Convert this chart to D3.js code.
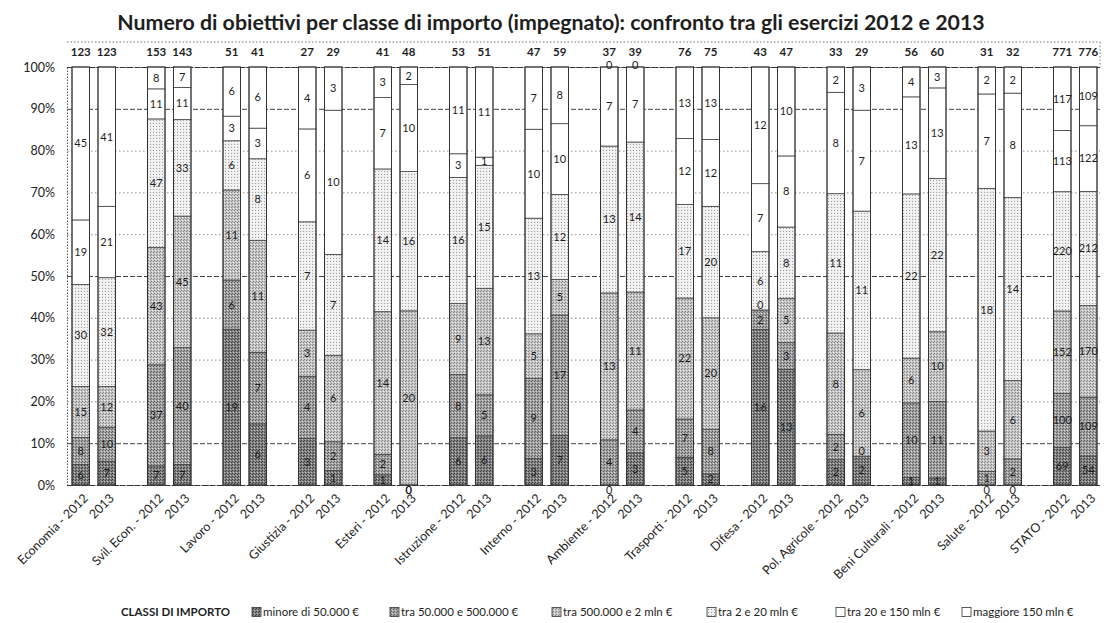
<!DOCTYPE html>
<html><head><meta charset="utf-8">
<script src="https://cdn.jsdelivr.net/npm/d3@7"></script>
<style>
body{margin:0;background:#fff}
svg{display:block}
text{font-family:Lato,"Liberation Sans",sans-serif;fill:#1e1e1e}
</style>
</head><body>
<svg id="chart" width="1113" height="623"></svg>
<script>
// ---- DATA ----
const titleText = "Numero di obiettivi per classe di importo (impegnato): confronto tra gli esercizi 2012 e 2013";
const ministries = ["Economia","Svil. Econ.","Lavoro","Giustizia","Esteri","Istruzione","Interno","Ambiente","Trasporti","Difesa","Pol. Agricole","Beni Culturali","Salute","STATO"];
const years = ["2012","2013"];
const classNames = ["minore di 50.000 €","tra 50.000 e 500.000 €","tra 500.000 e 2 mln €","tra 2 e 20 mln €","tra 20 e 150 mln €","maggiore 150 mln €"];
const legendTitle = "CLASSI DI IMPORTO";
// values per class; order: ministry 2012, ministry 2013, ...
const cls1 = [6,7, 7,7, 19,6, 3,1, 1,0, 6,6, 3,7, 0,3, 5,2, 16,13, 2,2, 1,1, 0,0, 69,54];
const cls2 = [8,10, 37,40, 6,7, 4,2, 2,0, 8,5, 9,17, 4,4, 7,8, 2,3, 2,0, 10,11, 1,2, 100,109];
const cls3 = [15,12, 43,45, 11,11, 3,6, 14,20, 9,13, 5,5, 13,11, 22,20, 0,5, 8,6, 6,10, 3,6, 152,170];
const cls4 = [30,32, 47,33, 6,8, 7,7, 14,16, 16,15, 13,12, 13,14, 17,20, 6,8, 11,11, 22,22, 18,14, 220,212];
const cls5 = [19,21, 11,11, 3,3, 6,10, 7,10, 3,1, 10,10, 7,7, 12,12, 7,8, 8,7, 13,13, 7,8, 113,122];
const cls6 = [45,41, 8,7, 6,6, 4,3, 3,2, 11,11, 7,8, 0,0, 13,13, 12,10, 2,3, 4,3, 2,2, 117,109];
const yTickLabels = ["0%","10%","20%","30%","40%","50%","60%","70%","80%","90%","100%"];

// ---- BUILD ----
const series = [cls1,cls2,cls3,cls4,cls5,cls6];
const keys = ["c1","c2","c3","c4","c5","c6"];
const rows = [];
ministries.forEach((m,gi)=>years.forEach((yr,yi)=>{
  const i = gi*2+yi;
  const r = {ministry:m, year:yr};
  keys.forEach((k,ki)=>r[k]=series[ki][i]);
  r.total = d3.sum(keys,k=>r[k]);
  rows.push(r);
}));

const svg = d3.select("#chart");
const defs = svg.append("defs");
const pats = [
  {bg:"#828282", dot:"#3e3e3e", light:"#bdbdbd"},
  {bg:"#a2a2a2", dot:"#5e5e5e", light:"#d6d6d6"},
  {bg:"#c6c6c6", dot:"#858585", light:"#ececec"},
  {bg:"#eeeeee", dot:"#a0a0a0", light:"#fff"},
  {bg:"#ffffff", dot:null},
  {bg:"#ffffff", dot:null}
];
pats.forEach((p,i)=>{
  const pt = defs.append("pattern").attr("id","pat"+i).attr("patternUnits","userSpaceOnUse")
    .attr("width",3).attr("height",3);
  pt.append("rect").attr("width",3).attr("height",3).attr("fill",p.bg);
  if(p.dot){
    pt.append("rect").attr("x",0).attr("y",0).attr("width",1).attr("height",1).attr("fill",p.dot);
    pt.append("rect").attr("x",2).attr("y",1).attr("width",1).attr("height",1).attr("fill",p.light);
    if(i<3) pt.append("rect").attr("x",1).attr("y",2).attr("width",1).attr("height",1).attr("fill",p.dot);
  }
});

const y = d3.scaleLinear().domain([0,1]).range([485,67]);
const xg = d3.scaleBand().domain(ministries).range([56,1113]).padding(0);
const xy = d3.scaleBand().domain(years).range([16,59.5]).paddingInner(0.327).paddingOuter(0);
const bx = d => xg(d.ministry)+xy(d.year);
const bw = xy.bandwidth();

const plotL = 67, plotR = 1100;

// title
const title = svg.append("text").attr("x",551).attr("y",30).attr("text-anchor","middle")
  .style("font-weight","bold").style("font-size","20px").text(titleText);
const tw = title.node().getComputedTextLength();
title.style("font-size",(20*868/tw).toFixed(2)+"px");

// totals row frame
svg.append("line").attr("x1",plotL).attr("x2",plotR).attr("y1",42).attr("y2",42)
  .attr("stroke","#777").attr("stroke-dasharray","1.5,2");
svg.append("line").attr("x1",plotR).attr("x2",plotR).attr("y1",42).attr("y2",67)
  .attr("stroke","#777").attr("stroke-dasharray","1.5,2");

// gridlines & y axis
const yAxis = d3.axisLeft(y).tickValues(d3.range(0,1.0001,0.1)).tickSize(-(plotR-plotL))
  .tickFormat((d,i)=>yTickLabels[i]);
const ga = svg.append("g").attr("transform",`translate(${plotL},0)`).call(yAxis);
ga.select(".domain").attr("stroke","#555").attr("stroke-dasharray","1.5,1.5");
ga.selectAll(".tick line").attr("stroke",(d,i)=> (i===0||i===10)?"#333":(i%4===1?"#444":"#888"))
  .attr("stroke-dasharray",(d,i)=> (i===0||i===10)?"6,1.5":(i%4===1?"5,2":"1.5,2.5"));
ga.selectAll(".tick text").attr("x",-12).style("font-size","12.5px").style("fill","#222")
  .style("font-family","Lato,'Liberation Sans',sans-serif");

// stacked bars
const stack = d3.stack().keys(keys).offset(d3.stackOffsetExpand);
const stacked = stack(rows);
const layers = svg.append("g").selectAll("g").data(stacked).join("g")
  .attr("fill",(d,i)=>`url(#pat${i})`);
layers.selectAll("rect").data(d=>d).join("rect")
  .attr("x",d=>bx(d.data)).attr("width",bw)
  .attr("y",d=>y(d[1])).attr("height",d=>Math.max(0,y(d[0])-y(d[1])))
  .attr("stroke","#444").attr("stroke-width",0.8);

// bar outlines
svg.append("g").selectAll("rect").data(rows).join("rect")
  .attr("x",d=>bx(d)).attr("width",bw).attr("y",y(1)).attr("height",y(0)-y(1))
  .attr("fill","none").attr("stroke","#333").attr("stroke-width",1);

// segment labels (zero-value labels nudged off their neighbours)
const lab = svg.append("g").style("font-size","11px");
stacked.forEach((layer,li)=>{
  lab.selectAll(null).data(layer).join("text")
    .attr("x",d=>bx(d.data)+bw/2)
    .attr("y",d=>{
      let yy = y((d[0]+d[1])/2);
      if(d.data[keys[li]]===0){ yy += (d[0]===0 ? 5 : (d[1]>=1 ? -2 : -5)); }
      return yy;
    })
    .attr("dy","0.35em").attr("text-anchor","middle")
    .text(d=>d.data[keys[li]]);
});

// totals
svg.append("g").selectAll("text").data(rows).join("text")
  .attr("x",d=>bx(d)+bw/2).attr("y",52).attr("dy","0.35em").attr("text-anchor","middle")
  .style("font-size","11.5px").style("font-weight","bold").text(d=>d.total);

// x labels
svg.append("g").selectAll("text").data(rows).join("text")
  .attr("transform",d=>`translate(${bx(d)+bw/2+5},${496}) rotate(-45)`)
  .attr("text-anchor","end").attr("dy","0.35em").style("font-size","12.5px")
  .text(d=> d.year==="2012" ? `${d.ministry} - ${d.year}` : d.year);

// legend
const leg = svg.append("g").attr("transform","translate(0,612)");
leg.append("text").attr("x",121).attr("dy","0.35em").style("font-weight","bold").style("font-size","11.5px").text(legendTitle);
const legX = [252,390,552,707,836,962];
classNames.forEach((c,i)=>{
  leg.append("rect").attr("x",legX[i]).attr("y",-4.5).attr("width",9).attr("height",9)
    .attr("fill",`url(#pat${i})`).attr("stroke","#333").attr("stroke-width",0.8);
  leg.append("text").attr("x",legX[i]+11).attr("dy","0.35em").style("font-size","11.5px").text(c);
});
</script>
</body></html>
